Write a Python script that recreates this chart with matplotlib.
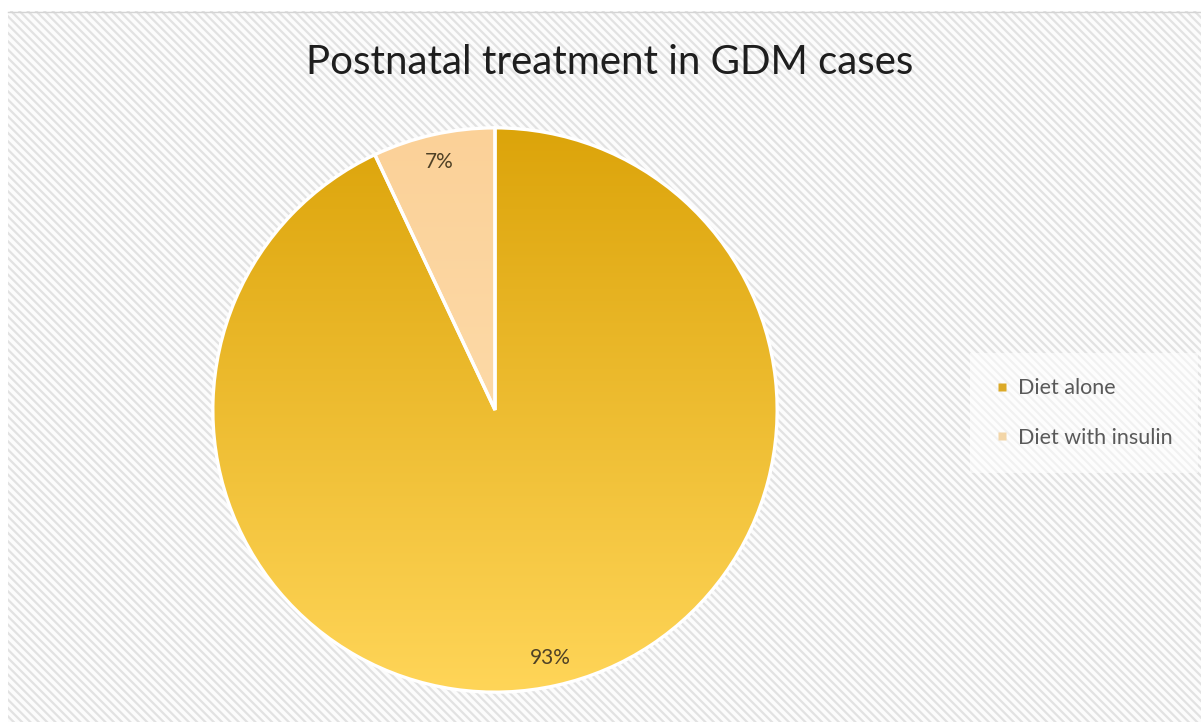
import numpy as np
import matplotlib.pyplot as plt
from matplotlib.colors import LinearSegmentedColormap
from matplotlib.patches import Rectangle
from matplotlib.lines import Line2D

plt.rcParams['font.family'] = ['Lato', 'DejaVu Sans']
plt.rcParams['hatch.linewidth'] = 1.6

# Data
labels = ['Diet alone', 'Diet with insulin']
shares = [93, 7]
# gradient colours (top, bottom) for each slice, plus the flat legend colour
grad_colors = [('#dca40a', '#ffd558'), ('#fbd198', '#ffe2b6')]
legend_colors = ['#dcaa28', '#f3d6a8']

W, H, DPI = 1201, 722, 100
fig = plt.figure(figsize=(W / DPI, H / DPI), dpi=DPI)
fig.patch.set_facecolor('white')

# hatched chart-area background
bg = fig.add_axes([0, 0, 1, 1])
bg.set_xlim(0, W)
bg.set_ylim(H, 0)
bg.axis('off')
bg.add_patch(Rectangle((8, 11), W - 8, H - 11, facecolor='#fcfcfc',
                       edgecolor='#e2e2e2', hatch='\\\\\\\\', linewidth=0))
bg.plot([8, W], [11.5, 11.5], color='#d4d4d4', lw=1)

# pie axes: centre (495, 410), radius 285 px
cx, cy, r = 495, 410, 285
ax = fig.add_axes([(cx - r) / W, (H - cy - r) / H, 2 * r / W, 2 * r / H])
wedges, _, pct_texts = ax.pie(
    shares, startangle=90, counterclock=False, radius=1,
    autopct=lambda p: f'{p:.0f}%', pctdistance=0.9,
    wedgeprops=dict(edgecolor='white', linewidth=2.4),
    textprops=dict(fontsize=15, color='#4f4126'))
ax.set_xlim(-1.01, 1.01)
ax.set_ylim(-1.01, 1.01)
ax.set_aspect('equal')
ax.axis('off')

# vertical gradient fill clipped to each slice
grad = np.linspace(0, 1, 256).reshape(-1, 1)
for w, (top, bottom) in zip(wedges, grad_colors):
    cmap = LinearSegmentedColormap.from_list('g', [bottom, top])
    im = ax.imshow(grad, cmap=cmap, extent=(-1, 1, -1, 1), origin='lower',
                   aspect='auto', zorder=0.5)
    im.set_clip_path(w)
    w.set_facecolor('none')
    w.set_zorder(1)
for t in pct_texts:
    t.set_zorder(3)

fig.text(0.5 * (305 + 915) / W, 1 - 63 / H, 'Postnatal treatment in GDM cases',
         ha='center', va='center', fontsize=29, color='#1e1e1e')

handles = [Line2D([], [], marker='s', linestyle='none', markersize=5.5,
                  markerfacecolor=c, markeredgecolor='none') for c in legend_colors]
leg = fig.legend(handles, labels, loc='center left',
                 bbox_to_anchor=(966 / W, 1 - 413 / H), frameon=True,
                 fontsize=15.5, labelcolor='#595959', handlelength=0.5,
                 handletextpad=0.5, labelspacing=1.35, borderpad=0.9)
leg.get_frame().set_facecolor('white')
leg.get_frame().set_alpha(0.55)
leg.get_frame().set_linewidth(0)
leg.get_frame().set_boxstyle('square')

fig.savefig('out.png', dpi=DPI)
